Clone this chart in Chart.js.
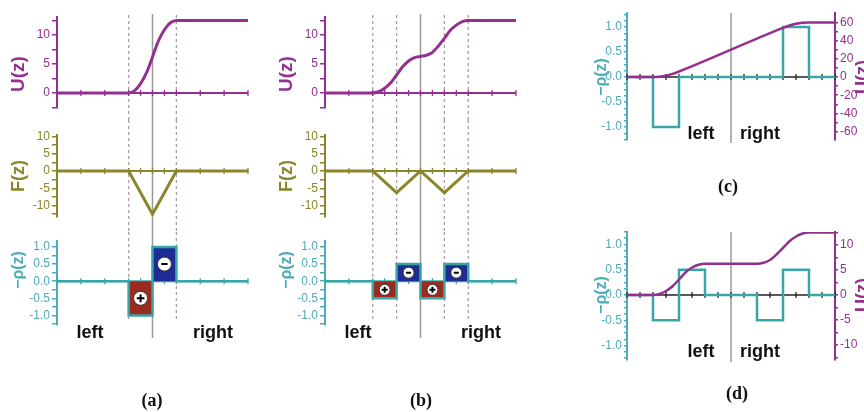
<!DOCTYPE html>
<html>
<head>
<meta charset="utf-8">
<script src="https://cdn.jsdelivr.net/npm/chart.js@4.4.1/dist/chart.umd.min.js"></script>
<style>
body{margin:0;background:#fff;width:864px;height:412px;overflow:hidden;position:relative}
canvas{position:absolute}
</style>
</head>
<body>
<canvas id="aU" width="260" height="120" style="left:0;top:0"></canvas>
<canvas id="aF" width="260" height="112" style="left:0;top:120px"></canvas>
<canvas id="aR" width="260" height="180" style="left:0;top:232px"></canvas>
<canvas id="bU" width="260" height="120" style="left:268px;top:0"></canvas>
<canvas id="bF" width="260" height="112" style="left:268px;top:120px"></canvas>
<canvas id="bR" width="260" height="180" style="left:268px;top:232px"></canvas>
<canvas id="c" width="304" height="200" style="left:560px;top:0"></canvas>
<canvas id="d" width="304" height="212" style="left:560px;top:200px"></canvas>
<script>
// ---- data ----

// (a) one junction
const zUA = [-4, -1, -0.75, -0.5, -0.25, 0, 0.25, 0.5, 0.75, 1, 4];
const uA  = [0, 0, 0.4, 1.6, 3.5, 6.2, 9.0, 10.9, 12.1, 12.5, 12.5];
const zFA = [-4, -1, 0, 1, 4];
const fA  = [0, 0, -12.5, 0, 0];
const zRA = [-4, -1, -1, 0, 0, 1, 1, 4];
const rA  = [0, 0, -1, -1, 1, 1, 0, 0];
const plusZA = [-0.5], plusRA = [-0.5];
const minusZA = [0.5], minusRA = [0.5];

// (b) two junctions
const zUB = [-4, -2, -1.75, -1.5, -1.25, -1, -0.75, -0.5, -0.25, 0, 0.25, 0.5, 0.75, 1, 1.25, 1.5, 1.75, 2, 4];
const uB  = [0, 0, 0.2, 0.8, 1.75, 3.1, 4.5, 5.5, 6.1, 6.3, 6.5, 7.0, 8.1, 9.4, 10.8, 11.7, 12.3, 12.5, 12.5];
const zFB = [-4, -2, -1, 0, 1, 2, 4];
const fB  = [0, 0, -6.25, 0, -6.25, 0, 0];
const zRB = [-4, -2, -2, -1, -1, 0, 0, 1, 1, 2, 2, 4];
const rB  = [0, 0, -0.5, -0.5, 0.5, 0.5, -0.5, -0.5, 0.5, 0.5, 0, 0];
const plusZB = [-1.5, 0.5], plusRB = [-0.25, -0.25];
const minusZB = [-0.5, 1.5], minusRB = [0.25, 0.25];

// (c)
const zRC = [-8, -6, -6, -4, -4, 4, 4, 6, 6, 8];
const rC  = [0, 0, -1, -1, 0, 0, 1, 1, 0, 0];
const zUC = [-8, -6, -5.5, -5, -4.5, -4, 4, 4.5, 5, 5.5, 6, 8];
const uC  = [0, 0, 0.4, 1.5, 3.4, 6, 54, 56.6, 58.5, 59.6, 60, 60];

// (d)
const zRD = [-8, -6, -6, -4, -4, -2, -2, 2, 2, 4, 4, 6, 6, 8];
const rD  = [0, 0, -0.5, -0.5, 0.5, 0.5, 0, 0, -0.5, -0.5, 0.5, 0.5, 0, 0];
const zUD = [-8, -6, -5.5, -5, -4.5, -4, -3.5, -3, -2.5, -2, 2, 2.5, 3, 3.5, 4, 4.5, 5, 5.5, 6, 8];
const uD  = [0, 0, 0.2, 0.8, 1.75, 3.1, 4.5, 5.5, 6.05, 6.25, 6.25, 6.45, 7, 8.1, 9.4, 10.75, 11.7, 12.3, 12.5, 12.5];

// tick labels
const uMajor = [0, 5, 10], uLabels = ['0', '5', '10'];
const fMajor = [-10, -5, 0, 5, 10], fLabels = ['-10', '-5', '0', '5', '10'];
const rMajor = [-1, -0.5, 0, 0.5, 1], rLabels = ['-1.0', '-0.5', '0.0', '0.5', '1.0'];
const uCMajor = [-60, -40, -20, 0, 20, 40, 60], uCLabels = ['-60', '-40', '-20', '0', '20', '40', '60'];
const uDMajor = [-10, -5, 0, 5, 10], uDLabels = ['-10', '-5', '0', '5', '10'];
const zTicksA = [-4, -3, -2, -1, -0.5, 0, 0.5, 1, 2, 3, 4];
const zTicksB = [-4, -3, -2, -1.5, -1, -0.5, 0, 0.5, 1, 1.5, 2, 3, 4];
const zTicksCD = [-8, -7, -6, -5, -4, -3, -2, -1, 0, 1, 2, 3, 4, 5, 6, 7, 8];

// ---- look ----
const purple = '#93308f', olive = '#8a8629', teal = '#38a6a6', tealAx = '#4eacb8';
const red = '#9b2a21', blue = '#1f2c94', dashCol = '#b39aab', grayCol = '#9a9a9a';
const sans = '"Liberation Sans", Arial, sans-serif';
const serif = '"Liberation Serif", "Times New Roman", serif';

function steps(a, b, s){
    const out = [];
    for (let v = a; v <= b + 1e-9; v += s) out.push(Math.round(v * 1e6) / 1e6);
    return out;
}
function pts(xs, ys){
    return xs.map((x, i) => ({x: x, y: ys[i]}));
}

// extra drawing per canvas: vertical guide lines, zero axis, texts
const decorSpecs = {};
const decor = {
    id: 'decor',
    beforeDatasetsDraw(chart){
        const spec = decorSpecs[chart.canvas.id];
        if (!spec) return;
        const ctx = chart.ctx, xs = chart.scales.x;
        ctx.save();
        (spec.vlines || []).forEach(l => {
            const px = xs.getPixelForValue(l.x);
            ctx.beginPath();
            ctx.strokeStyle = l.color;
            ctx.lineWidth = l.width || 1.3;
            ctx.setLineDash(l.dash || []);
            ctx.moveTo(px, l.y0);
            ctx.lineTo(px, l.y1);
            ctx.stroke();
        });
        ctx.setLineDash([]);
        const ax = spec.axis;
        if (ax){
            const py = chart.scales.y.getPixelForValue(0);
            ctx.strokeStyle = ax.color;
            ctx.lineWidth = ax.width;
            ctx.beginPath();
            ctx.moveTo(chart.chartArea.left, py);
            ctx.lineTo(chart.chartArea.right, py);
            ctx.stroke();
            ctx.lineWidth = ax.tickWidth;
            ax.ticks.forEach(v => {
                const px = xs.getPixelForValue(v);
                ctx.beginPath();
                ctx.moveTo(px, py - ax.len);
                ctx.lineTo(px, py + ax.len);
                ctx.stroke();
            });
        }
        ctx.restore();
    },
    afterDraw(chart){
        const spec = decorSpecs[chart.canvas.id];
        if (!spec) return;
        const ctx = chart.ctx;
        (spec.texts || []).forEach(s => {
            ctx.save();
            ctx.translate(s.x, s.y);
            if (s.rot) ctx.rotate(s.rot * Math.PI / 180);
            ctx.font = s.font;
            ctx.fillStyle = s.color || '#111';
            ctx.textAlign = 'center';
            ctx.textBaseline = 'middle';
            ctx.fillText(s.t, 0, 0);
            ctx.restore();
        });
    }
};

function yAxis(o){
    return {
        type: 'linear',
        position: o.pos || 'left',
        min: o.min,
        max: o.max,
        afterBuildTicks: s => { s.ticks = o.ticks.map(v => ({value: v})); },
        afterFit: s => { s.width = o.width; },
        ticks: {
            autoSkip: false,
            color: o.color,
            padding: 2,
            font: {family: sans, size: 12},
            callback: v => { const i = o.major.indexOf(v); return i < 0 ? '' : o.labels[i]; }
        },
        grid: {drawOnChartArea: false, color: o.color, tickLength: o.tickLen || 5, lineWidth: 1.5},
        border: {color: o.color, width: 2}
    };
}

function makeChart(id, datasets, scales, pad){
    return new Chart(document.getElementById(id), {
        type: 'line',
        data: {datasets: datasets},
        options: {
            responsive: false,
            animation: false,
            events: [],
            layout: {padding: pad},
            plugins: {legend: {display: false}, tooltip: {enabled: false}},
            scales: scales
        },
        plugins: [decor]
    });
}

function signSets(pz, pr, mz, mr, rad){
    const circles = pts(pz.concat(mz), pr.concat(mr));
    return [
        {data: pts(pz, pr), showLine: false, pointStyle: 'cross', pointRadius: rad * 0.55, pointBorderWidth: 2, pointBorderColor: '#000'},
        {data: pts(mz, mr), showLine: false, pointStyle: 'line', pointRadius: rad * 0.45, pointBorderWidth: 2, pointBorderColor: '#000'},
        {data: circles, showLine: false, pointStyle: 'circle', pointRadius: rad, pointBackgroundColor: '#fff', pointBorderColor: '#333', pointBorderWidth: 1}
    ];
}

// one column (a) or (b): U, F and -rho stacked
function column(key, d){
    const xsc = {type: 'linear', min: -4, max: 4, display: false};
    const lbl = 'bold 18px ' + sans;

    decorSpecs[key + 'U'] = {
        vlines: d.dashed.map(x => ({x: x, y0: 15, y1: 120, color: dashCol, dash: [3, 3]}))
            .concat([{x: 0, y0: 14, y1: 120, color: grayCol, width: 1.5}]),
        axis: {color: purple, width: 2, tickWidth: 1.3, len: 3, ticks: d.zTicks},
        texts: [{t: 'U(z)', x: 19, y: 74, rot: -90, font: 'bold 19px ' + sans, color: purple}]
    };
    makeChart(key + 'U', [
        {data: pts(d.zU, d.u), borderColor: purple, borderWidth: 3, pointRadius: 0, cubicInterpolationMode: 'monotone'}
    ], {x: xsc, y: yAxis({min: -2.6, max: 13.1, ticks: steps(-2.5, 12.5, 2.5), major: uMajor, labels: uLabels, color: purple, width: 57})},
    {left: 0, right: 12, top: 17, bottom: 12});

    decorSpecs[key + 'F'] = {
        vlines: d.dashed.map(x => ({x: x, y0: 0, y1: 112, color: dashCol, dash: [3, 3]}))
            .concat([{x: 0, y0: 0, y1: 112, color: grayCol, width: 1.5}]),
        axis: {color: olive, width: 2, tickWidth: 1.3, len: 3, ticks: d.zTicks},
        texts: [{t: 'F(z)', x: 19, y: 56, rot: -90, font: lbl, color: olive}]
    };
    makeChart(key + 'F', [
        {data: pts(d.zF, d.f), borderColor: olive, borderWidth: 3, pointRadius: 0}
    ], {x: xsc, y: yAxis({min: -13.3, max: 10.4, ticks: steps(-12.5, 10, 2.5), major: fMajor, labels: fLabels, color: olive, width: 57})},
    {left: 0, right: 12, top: 15, bottom: 15});

    decorSpecs[key + 'R'] = {
        vlines: d.dashed.map(x => ({x: x, y0: 0, y1: 89, color: dashCol, dash: [3, 3]}))
            .concat([{x: 0, y0: 0, y1: 106, color: grayCol, width: 1.5}]),
        axis: {color: teal, width: 2, tickWidth: 1.3, len: 3, ticks: d.zTicks},
        texts: [
            {t: '\u2212\u03c1(z)', x: 19, y: 38, rot: -90, font: 'bold 16px ' + sans, color: tealAx},
            {t: 'left', x: d.leftX, y: 101, font: lbl},
            {t: 'right', x: d.rightX, y: 101, font: lbl},
            {t: d.tag, x: d.tagX, y: 169, font: 'bold 18px ' + serif}
        ]
    };
    makeChart(key + 'R', signSets(d.pz, d.pr, d.mz, d.mr, d.rad).concat([
        {data: pts(d.zR, d.r), borderColor: teal, borderWidth: 2.5, pointRadius: 0,
         fill: {target: 'origin', above: blue, below: red}}
    ]), {x: xsc, y: yAxis({min: -1.28, max: 1.17, ticks: steps(-1.25, 1, 0.25), major: rMajor, labels: rLabels, color: tealAx, width: 57})},
    {left: 0, right: 12, top: 5, bottom: 87});
}

column('a', {zU: zUA, u: uA, zF: zFA, f: fA, zR: zRA, r: rA, pz: plusZA, pr: plusRA, mz: minusZA, mr: minusRA,
    rad: 7, dashed: [-1, 1], zTicks: zTicksA, leftX: 90, rightX: 213, tag: '(a)', tagX: 152});
column('b', {zU: zUB, u: uB, zF: zFB, f: fB, zR: zRB, r: rB, pz: plusZB, pr: plusRB, mz: minusZB, mr: minusRB,
    rad: 5.5, dashed: [-2, -1, 1, 2], zTicks: zTicksB, leftX: 90, rightX: 213, tag: '(b)', tagX: 153});

// (c) and (d): -rho on the left axis, U on the right axis
function twin(id, d){
    const lbl = 'bold 18px ' + sans;
    decorSpecs[id] = {
        vlines: [{x: 0, y0: d.top, y1: d.top + 130, color: grayCol, width: 1.5}],
        axis: {color: '#222', width: 1.3, tickWidth: 1.3, len: 3, ticks: zTicksCD},
        texts: [
            {t: '\u2212\u03c1(z)', x: 42, y: d.rhoY, rot: -90, font: 'bold 16px ' + sans, color: tealAx},
            {t: 'U(z)', x: 303, y: d.rhoY, rot: -90, font: lbl, color: purple},
            {t: 'left', x: 141, y: d.textY, font: lbl},
            {t: 'right', x: 200, y: d.textY, font: lbl},
            {t: d.tag, x: d.tagX, y: d.tagY, font: 'bold 18px ' + serif}
        ]
    };
    makeChart(id, [
        {data: pts(d.zU, d.u), yAxisID: 'yU', borderColor: purple, borderWidth: 2.5, pointRadius: 0, cubicInterpolationMode: 'monotone'},
        {data: pts(d.zR, d.r), borderColor: teal, borderWidth: 2.5, pointRadius: 0}
    ], {
        x: {type: 'linear', min: -8, max: 8, display: false},
        y: yAxis({min: d.rMin, max: d.rMax, ticks: steps(-1.25, 1.25, 0.125), major: rMajor, labels: rLabels, color: tealAx, width: 67, tickLen: 3}),
        yU: yAxis({pos: 'right', min: d.uMin, max: d.uMax, ticks: d.uTicks, major: d.uMajor, labels: d.uLabels, color: purple, width: 29, tickLen: 3})
    }, {left: 0, right: 0, top: d.top, bottom: d.bottom});
}

twin('c', {zU: zUC, u: uC, zR: zRC, r: rC, rMin: -1.26, rMax: 1.28, uMin: -69.2, uMax: 70.3,
    uTicks: steps(-60, 60, 10), uMajor: uCMajor, uLabels: uCLabels,
    top: 13, bottom: 60, rhoY: 77, textY: 134, tag: '(c)', tagX: 168, tagY: 187});
twin('d', {zU: zUD, u: uD, zR: zRD, r: rD, rMin: -1.285, rMax: 1.245, uMin: -13, uMax: 12.6,
    uTicks: steps(-12.5, 12.5, 2.5), uMajor: uDMajor, uLabels: uDLabels,
    top: 32, bottom: 52, rhoY: 95, textY: 152, tag: '(d)', tagX: 177, tagY: 194});
</script>
</body>
</html>
